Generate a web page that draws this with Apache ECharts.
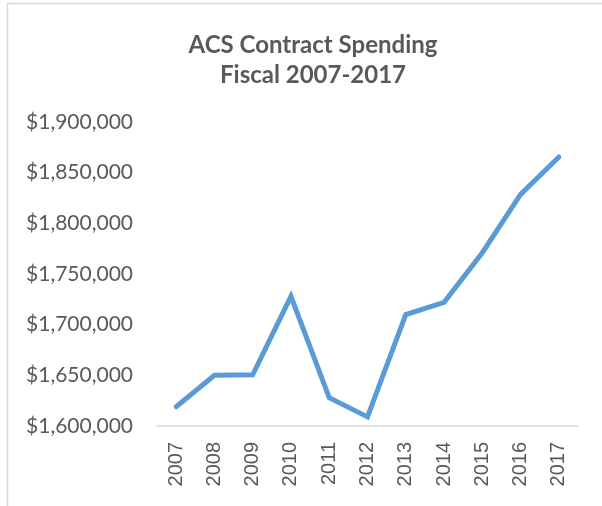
<!DOCTYPE html>
<html>
<head>
<meta charset="utf-8">
<script src="https://cdn.jsdelivr.net/npm/echarts@6/dist/echarts.min.js"></script>
<style>
html,body{margin:0;padding:0;background:#fff;}
#chart{width:602px;height:506px;}
</style>
</head>
<body>
<div id="chart"></div>
<script>
const categories = ['2007','2008','2009','2010','2011','2012','2013','2014','2015','2016','2017'];
const spending = [1619000, 1650000, 1650500, 1728000, 1628000, 1609000, 1710000, 1722000, 1771000, 1828500, 1865500];
const yMin = 1600000, yMax = 1900000, yStep = 50000;
const titleLines = ['ACS Contract Spending', 'Fiscal 2007-2017'];

const chart = echarts.init(document.getElementById('chart'));
chart.setOption({
  animation: false,
  backgroundColor: '#fff',
  title: {
    text: titleLines.join('\n'),
    left: 308, top: 25, textAlign: 'center',
    textStyle: { fontFamily: 'Lato', fontWeight: 'bold', fontSize: 24, color: '#595959', lineHeight: 30 }
  },
  graphic: [
    { type: 'line', shape: { x1: 7.5, y1: 3, x2: 7.5, y2: 506 }, style: { stroke: '#d9d9d9', lineWidth: 1.5 } },
    { type: 'line', shape: { x1: 7, y1: 3.5, x2: 602, y2: 3.5 }, style: { stroke: '#d9d9d9', lineWidth: 1.5 } }
  ],
  grid: { left: 157, right: 24, top: 122, bottom: 80, containLabel: false },
  xAxis: {
    type: 'category', data: categories, boundaryGap: true,
    axisLine: { lineStyle: { color: '#d9d9d9', width: 1.5 } },
    axisTick: { show: false },
    axisLabel: { rotate: 90, margin: 16, fontFamily: 'Liberation Sans', fontSize: 20, color: '#595959' }
  },
  yAxis: {
    type: 'value', min: yMin, max: yMax, interval: yStep,
    axisLine: { show: false }, axisTick: { show: false }, splitLine: { show: false },
    axisLabel: {
      margin: 24, fontFamily: 'Lato', fontSize: 21, color: '#595959',
      formatter: v => '$' + v.toLocaleString('en-US')
    }
  },
  series: [{
    type: 'line', data: spending, symbol: 'none',
    lineStyle: { color: '#5B9BD5', width: 5, cap: 'round', join: 'miter' }
  }]
});
</script>
</body>
</html>
